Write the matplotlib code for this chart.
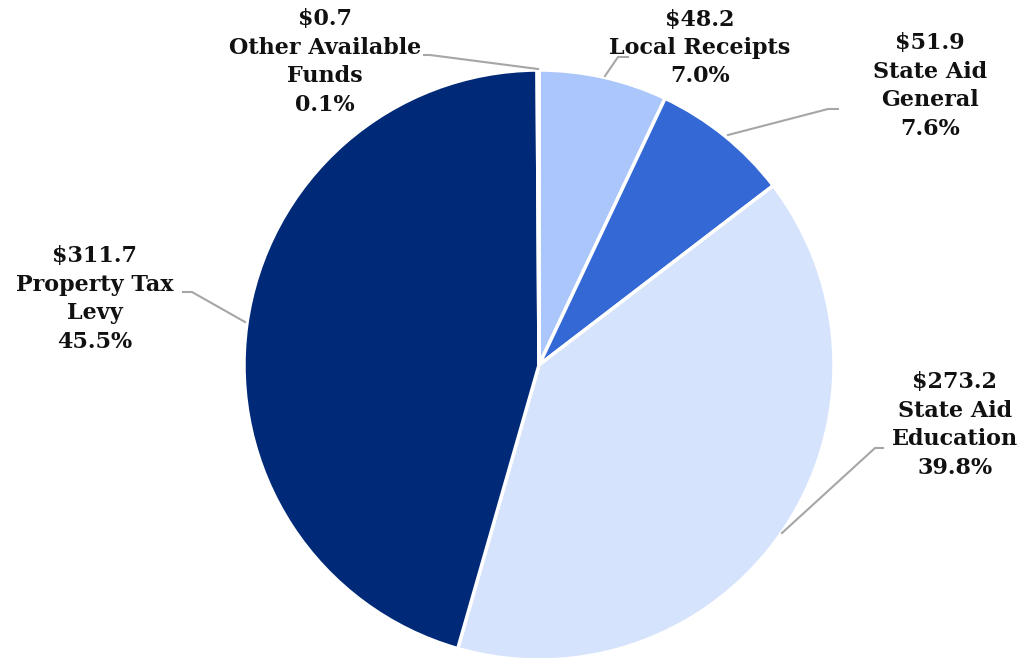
import numpy as np
import matplotlib.pyplot as plt

# slices, clockwise from 12 o'clock
names = ['Local Receipts', 'State Aid\nGeneral', 'State Aid\nEducation', 'Property Tax\nLevy', 'Other Available\nFunds']
amounts = [48.2, 51.9, 273.2, 311.7, 0.7]
pcts = ['7.0%', '7.6%', '39.8%', '45.5%', '0.1%']
colors = ['#abc6fa', '#3468d4', '#d6e3fc', '#002a78', '#c9d8f5']

H = 658
fig = plt.figure(figsize=(10.24, 6.58), dpi=100)
ax = fig.add_axes([0, 0, 1, 1])

ax.pie(amounts, colors=colors, startangle=90, counterclock=False,
       center=(539, H - 365), radius=295, frame=True,
       wedgeprops=dict(edgecolor='white', linewidth=2.5))
ax.set_xlim(0, 1024)
ax.set_ylim(0, H)
ax.set_aspect('equal')
ax.axis('off')

# label positions (pixel coords from top) and leader lines
label_xy = [(700, 48), (930, 86), (955, 425), (95, 299), (325, 62)]
leaders = [
    [(605, 76), (618, 57), (628, 57)],
    [(728, 135), (828, 109), (838, 109)],
    [(782, 533), (875, 448), (883, 448)],
    [(245, 322), (192, 292), (183, 292)],
    [(538, 69), (430, 55), (424, 55)],
]

for i in range(len(names)):
    txt = '$%.1f\n%s\n%s' % (amounts[i], names[i], pcts[i])
    x, y = label_xy[i]
    ax.text(x, H - y, txt, ha='center', va='center', fontsize=16,
            fontweight='bold', family='DejaVu Serif', linespacing=1.38,
            color='#111111')
    pts = np.array(leaders[i], dtype=float)
    ax.plot(pts[:, 0], H - pts[:, 1], color='#a6a6a6', lw=1.5)

fig.savefig('out.png', dpi=100, facecolor='white')
